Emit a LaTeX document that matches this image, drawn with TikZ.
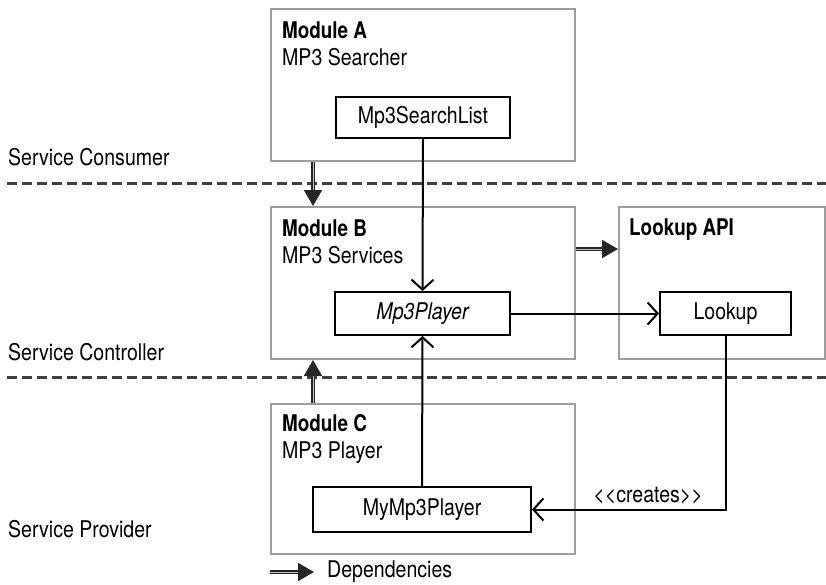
\documentclass[tikz,border=0pt]{standalone}
\usepackage{fontspec}
\setmainfont{TeX Gyre Heros}[FakeStretch=0.85, BoldFeatures={FakeStretch=0.82}]
\usepackage{tikz}
\usetikzlibrary{arrows.meta}
\usetikzlibrary{positioning}

\tikzset{
  module/.style={draw=black!38, line width=2pt, anchor=north west, inner sep=0pt},
  cls/.style={draw, line width=2pt, inner sep=0pt, minimum height=43pt},
  caption/.style={anchor=base west, inner sep=0pt},
  uses/.style={line width=2pt, -{Straight Barb[length=10pt,width=22pt,line width=2pt]}},
  dep/.style={draw=black!85, line width=1.9pt, double=black!25, double distance=1pt, -{Triangle[length=16pt,width=18pt]}},
  layer/.style={draw=black!75, line width=3pt, dash pattern=on 10pt off 5pt}
}

\begin{document}
\begin{tikzpicture}[x=1pt, y=-1pt, every node/.style={font=\fontsize{23pt}{27pt}\selectfont}]
            \useasboundingbox (0,0) rectangle (826,584);
            % layers
            \draw[layer] (7,183) -- (826,183);
            \draw[layer] (7,377) -- (826,377);
            \node[anchor=west, inner sep=0pt] at (8,157) (consumer) {Service Consumer};
            \node[anchor=west, inner sep=0pt] at (8,352) (controller) {Service Controller};
            \node[anchor=west, inner sep=0pt] at (8,529) (provider) {Service Provider};

            % modules
            \node[module, minimum width=304pt, minimum height=152pt] at (270,8) (moda) {};
            \node[module, minimum width=304pt, minimum height=152pt] at (270,206) (modb) {};
            \node[module, minimum width=206pt, minimum height=152pt] at (618,206) (lkapi) {};
            \node[module, minimum width=304pt, minimum height=150pt] at (270,403) (modc) {};

            \node[caption] at (282,38) (moda title) {\bfseries Module A};
            \node[caption] at (282,65) (moda name) {MP3 Searcher};
            \node[caption] at (282,236) (modb title) {\bfseries Module B};
            \node[caption] at (282,263) (modb name) {MP3 Services};
            \node[caption] at (629,235) (lkapi title) {\bfseries Lookup API};
            \node[caption] at (282,431) (modc title) {\bfseries Module C};
            \node[caption] at (282,458) (modc name) {MP3 Player};

            % classes
            \node[cls, minimum width=174pt, minimum height=41pt] at (423,117.5) (searchlist) {Mp3SearchList};
            \node[cls, minimum width=175pt] at (422.5,313.5) (player) {\itshape Mp3Player};
            \node[cls, minimum width=131pt] at (725.5,313.5) (lookup) {Lookup};
            \node[cls, minimum width=218pt, minimum height=45pt] at (422,509.5) (myplayer) {MyMp3Player};

            % calls
            \draw[uses] (searchlist.south) -- (player.north);
            \draw[uses] (myplayer.north) -- (player.south);
            \draw[uses] (player.east) -- (lookup.west);
            \draw[uses] (lookup.south) |- (myplayer.east)
                node[pos=0.7, above=4pt, inner sep=0pt] (creates) {<{}<creates>{}>};

            % dependencies
            \draw[dep] ([xshift=43pt]moda.south west) -- ([xshift=43pt]modb.north west);
            \draw[dep] ([yshift=-43pt]modb.north east) -- ([yshift=-43pt]lkapi.north west);
            \draw[dep] ([xshift=43pt]modc.north west) -- ([xshift=43pt]modb.south west);

            % legend
            \node[anchor=west, inner sep=0pt] at (327,572) (deps) {Dependencies};
            \coordinate (legend start) at (270,572);
            \draw[dep] (legend start) -- ([xshift=-13pt]deps.west);
        \end{tikzpicture}
\end{document}
